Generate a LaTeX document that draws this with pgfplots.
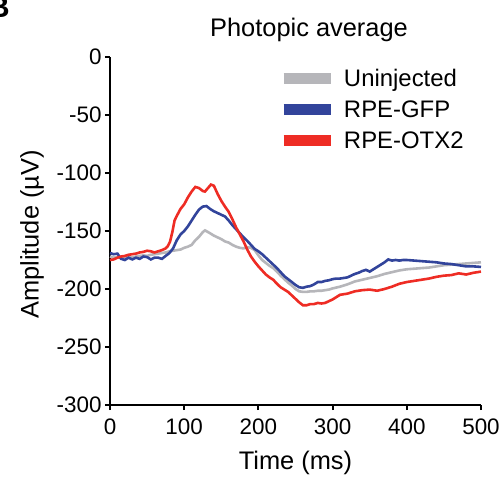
\documentclass[border=0pt]{standalone}
\usepackage{pgfplots}
\pgfplotsset{compat=1.18}
\usepackage{fontspec}
\setmainfont{Liberation Sans}
\definecolor{cgray}{RGB}{182,182,186}
\definecolor{cblue}{RGB}{50,68,155}
\definecolor{cred}{RGB}{238,44,36}
\begin{document}
\begin{tikzpicture}
\begin{axis}[
  at={(0,0)}, anchor=south west,
  scale only axis, width=371bp, height=348bp,
  xmin=0, xmax=500, ymin=-300, ymax=0,
  axis lines=left,
  axis line style={-, line width=2bp, black},
  xtick={0,100,...,500}, ytick={-300,-250,...,0},
  tick align=outside, major tick length=5bp,
  tick style={line width=2bp, black},
  /pgf/number format/assume math mode=true,
  ticklabel style={font=\fontsize{22.5}{26}\selectfont},
  xticklabel style={yshift=-5bp},
  xlabel={Time (ms)}, ylabel={Amplitude (µV)},
  label style={font=\fontsize{25.5}{30}\selectfont},
  xlabel style={at={(axis description cs:0.5,-0.185)}, anchor=base},
  ylabel style={at={(axis description cs:-0.21,0.49)}, anchor=center},
  clip=false,
  legend cell align=left,
  legend image code/.code={\draw[line width=11bp,#1] (0bp,2bp) -- (47bp,2bp); \path (59bp,2bp);},
  legend style={draw=none, fill=none, at={(axis description cs:0.4528,0.9684)}, anchor=north west,
    font=\fontsize{24}{28}\selectfont, inner sep=0pt, row sep=7bp,
    nodes={inner sep=0pt, text height=18bp, text depth=6bp}},
]
\addplot[cgray, line width=2.6bp] coordinates {
(0,-172) (5,-173) (10,-172.5) (15,-173.5) (20,-173) (25,-172) (30,-173) (35,-172)
(40,-171.5) (45,-171) (50,-171.5) (55,-170.5) (60,-170) (65,-169.5) (70,-169) (75,-168.5)
(80,-167.5) (85,-167) (90,-166.5) (95,-166) (100,-164.5) (105,-163.5) (110,-162) (115,-158)
(120,-155) (125,-151) (128,-149.5) (131,-150.5) (135,-152) (140,-154) (145,-155.5) (150,-157)
(155,-159) (160,-160) (165,-162) (170,-163.5) (175,-164.5) (180,-165) (185,-164) (190,-164.5)
(195,-166.5) (200,-171) (205,-175) (210,-177.5) (215,-180) (220,-182) (225,-185) (230,-188.5)
(235,-191.5) (240,-194.5) (245,-197) (250,-200) (255,-202) (260,-202.5) (265,-202.5) (270,-202)
(275,-202) (280,-201.5) (285,-201.5) (290,-201) (295,-200.5) (300,-199.5) (310,-198) (320,-196)
(330,-193.5) (340,-192) (350,-190.5) (360,-189) (370,-187) (380,-185.5) (390,-184) (400,-183)
(410,-182.5) (420,-182) (430,-181.5) (440,-180.5) (450,-179.5) (460,-179) (470,-178.5) (480,-178)
(490,-177.5) (500,-177)
};
\addlegendentry{Uninjected}
\addplot[cblue, line width=2.6bp] coordinates {
(0,-169) (5,-170) (10,-169.5) (15,-174) (20,-175) (25,-173) (30,-174.5) (35,-173)
(40,-174) (45,-172) (50,-172.5) (55,-174.5) (60,-173) (65,-173) (70,-174) (75,-171.5)
(80,-169) (85,-165) (90,-158) (95,-153) (100,-150) (105,-146) (110,-141) (115,-136)
(120,-131.5) (125,-129) (130,-128.5) (135,-131) (140,-133) (145,-134.5) (150,-136) (155,-137.5)
(160,-141) (165,-145) (170,-148.5) (175,-152) (180,-155.5) (185,-158.5) (190,-162) (195,-165.5)
(200,-167.5) (205,-170) (210,-173) (215,-176) (220,-179) (225,-182) (230,-185.5) (235,-189)
(240,-191.5) (245,-194) (250,-196.5) (255,-198.5) (260,-199) (265,-198) (270,-197.5) (275,-196)
(280,-194) (285,-194) (290,-193) (295,-192.5) (300,-191.5) (305,-191) (310,-191) (315,-190.5)
(320,-190) (325,-188.5) (330,-187) (335,-186) (340,-184.5) (345,-183.5) (350,-185) (355,-183)
(360,-181) (365,-179) (370,-177) (375,-174.5) (380,-175.5) (385,-175) (390,-175.5) (395,-175)
(400,-175) (410,-175.5) (420,-176) (430,-176.5) (440,-177) (450,-178) (460,-178.5) (470,-179.5)
(480,-180.5) (490,-180.5) (500,-181)
};
\addlegendentry{RPE-GFP}
\addplot[cred, line width=2.6bp] coordinates {
(0,-175) (5,-174.5) (10,-173) (15,-172) (20,-171.5) (25,-170.5) (30,-170) (35,-169.5)
(40,-168.5) (45,-168) (50,-167) (55,-167.5) (60,-168.5) (65,-167.5) (70,-166.5) (75,-165)
(78,-163) (81,-159) (84,-151) (87,-141) (90,-137) (95,-131) (100,-127) (105,-121)
(110,-116) (115,-112) (120,-113) (125,-115.5) (128,-116) (132,-113) (136,-110) (140,-111)
(145,-118) (150,-124) (155,-129) (160,-133.5) (165,-140) (170,-147) (175,-153) (180,-159)
(185,-166) (190,-172) (195,-176.5) (200,-180.5) (205,-184) (210,-187.5) (215,-190) (220,-192)
(225,-195.5) (230,-198.5) (235,-200.5) (240,-202.5) (245,-205.5) (250,-208.5) (255,-211.5) (260,-214)
(265,-214) (270,-213) (275,-213) (280,-212) (285,-212.5) (290,-212) (295,-210.5) (300,-209)
(305,-207) (310,-205) (315,-204.5) (320,-204) (325,-203) (330,-202) (340,-201) (350,-200.5)
(360,-201.5) (370,-200) (380,-198) (390,-195.5) (400,-194) (410,-193) (420,-192) (430,-191)
(440,-189.5) (450,-188.5) (460,-188) (470,-186.5) (480,-187.5) (490,-186) (500,-185)
};
\addlegendentry{RPE-OTX2}
\end{axis}
\node[anchor=base, font=\fontsize{25.5}{30}\selectfont] at (199bp,368bp) {Photopic average};
\node[anchor=base east, font=\fontsize{30}{34}\selectfont\bfseries, inner sep=0pt] at (-100bp,387bp) {B};
\pgfresetboundingbox
\path (-110bp,-72bp) rectangle (389bp,405bp);
\end{tikzpicture}
\end{document}
